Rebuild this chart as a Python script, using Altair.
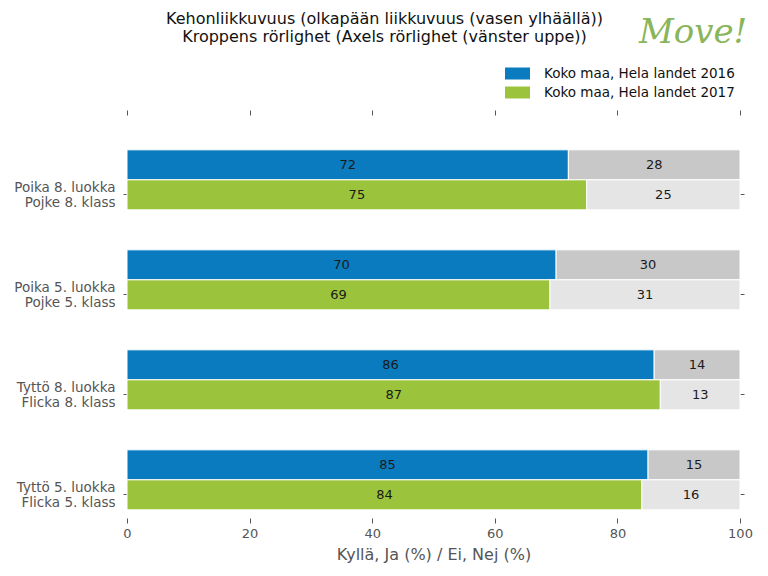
import altair as alt
import pandas as pd

categories = [
    "Poika 8. luokka\nPojke 8. klass",
    "Poika 5. luokka\nPojke 5. klass",
    "Tyttö 8. luokka\nFlicka 8. klass",
    "Tyttö 5. luokka\nFlicka 5. klass",
]
years = ["2016", "2017"]
series_names = ["Koko maa, Hela landet 2016", "Koko maa, Hela landet 2017"]
yes_2016 = [72, 70, 86, 85]
yes_2017 = [75, 69, 87, 84]
no_2016 = [28, 30, 14, 15]
no_2017 = [25, 31, 13, 16]
x_ticks = [0, 20, 40, 60, 80, 100]

color_domain = series_names + ["Ei 2016", "Ei 2017"]
color_range = ["#0a7bbf", "#9bc43c", "#c8c8c8", "#e5e5e5"]

rows = []
for i, cat in enumerate(categories):
    for year, name, yes, no in [
        ("2016", series_names[0], yes_2016, no_2016),
        ("2017", series_names[1], yes_2017, no_2017),
    ]:
        rows.append(dict(category=cat, year=year, series=name,
                         start=0, end=yes[i], value=yes[i]))
        rows.append(dict(category=cat, year=year, series="Ei " + year,
                         start=yes[i], end=yes[i] + no[i], value=no[i]))
df = pd.DataFrame(rows)

FONT = "DejaVu Sans"
GREY = "#555555"

base = alt.Chart(df)

y_scale = alt.Scale(paddingInner=0.4, paddingOuter=0.215, align=0.81)

bars = base.mark_bar(stroke="white", strokeWidth=1).encode(
    x=alt.X("start:Q",
            scale=alt.Scale(domain=[0, 100], nice=False),
            axis=alt.Axis(values=x_ticks, orient="bottom",
                          title="Kyllä, Ja (%) / Ei, Nej (%)",
                          titleFontSize=16, titleColor=GREY, titleFont=FONT,
                          titleFontWeight="normal", titlePadding=6,
                          labelFontSize=13, labelColor=GREY, labelFont=FONT,
                          labelFlush=False,
                          labelPadding=4, tickSize=5, tickColor=GREY)),
    x2="end:Q",
    y=alt.Y("category:N", sort=categories, scale=y_scale,
            axis=alt.Axis(title=None, orient="left", bandPosition=0.75,
                          labelExpr="split(datum.label, '\\n')",
                          labelFontSize=13.5, labelColor=GREY, labelFont=FONT,
                          labelLineHeight=15, labelAlign="right",
                          labelOffset=8, labelLimit=0,
                          labelPadding=8, tickSize=4, tickColor=GREY)),
    yOffset=alt.YOffset("year:N", sort=years,
                        scale=alt.Scale(paddingInner=0, paddingOuter=0)),
    color=alt.Color("series:N",
                    scale=alt.Scale(domain=color_domain, range=color_range),
                    legend=alt.Legend(values=series_names, title=None,
                                      orient="none", legendX=378, legendY=-54,
                                      symbolType="M-1,-0.48L1,-0.48L1,0.48L-1,0.48Z",
                                      symbolSize=625, symbolStrokeWidth=0,
                                      labelFontSize=13.5, labelFont=FONT,
                                      labelColor="#111111", labelOffset=14,
                                      labelLimit=0,
                                      rowPadding=-1, padding=0)),
)

texts = base.mark_text(fontSize=13, font=FONT, color="#1a1a1a").transform_calculate(
    mid="(datum.start + datum.end) / 2"
).encode(
    x=alt.X("mid:Q",
            axis=alt.Axis(orient="top", labels=False, title=None,
                          values=x_ticks, tickSize=5, tickColor=GREY)),
    y=alt.Y("category:N", sort=categories,
            axis=alt.Axis(orient="right", labels=False, title=None,
                          bandPosition=0.75, tickSize=4, tickColor=GREY)),
    yOffset=alt.YOffset("year:N", sort=years),
    text="value:Q",
)

logo = alt.Chart(pd.DataFrame({"t": ["Move!"]})).mark_text(
    font="DejaVu Serif", fontSize=34, fontStyle="italic",
    color="#8ab55a", align="left", baseline="middle",
).encode(x=alt.value(512), y=alt.value(-82), text="t:N")

chart = alt.layer(bars, texts, logo).resolve_axis(
    x="independent", y="independent"
).properties(
    width=613,
    height=403,
    padding={"left": 127, "top": 115, "right": 28, "bottom": 58},
    autosize="none",
    title=alt.TitleParams(
        text=["Kehonliikkuvuus (olkapään liikkuvuus (vasen ylhäällä))",
              "Kroppens rörlighet (Axels rörlighet (vänster uppe))"],
        anchor="middle", frame="group", dx=-49, dy=49, fontSize=16, font=FONT,
        fontWeight="normal", color="#111111", lineHeight=18.5, offset=20,
    ),
).configure_view(stroke=None).configure_axis(grid=False, domain=False)

chart.save("out.html", embed_options={"renderer": "svg", "actions": False})
